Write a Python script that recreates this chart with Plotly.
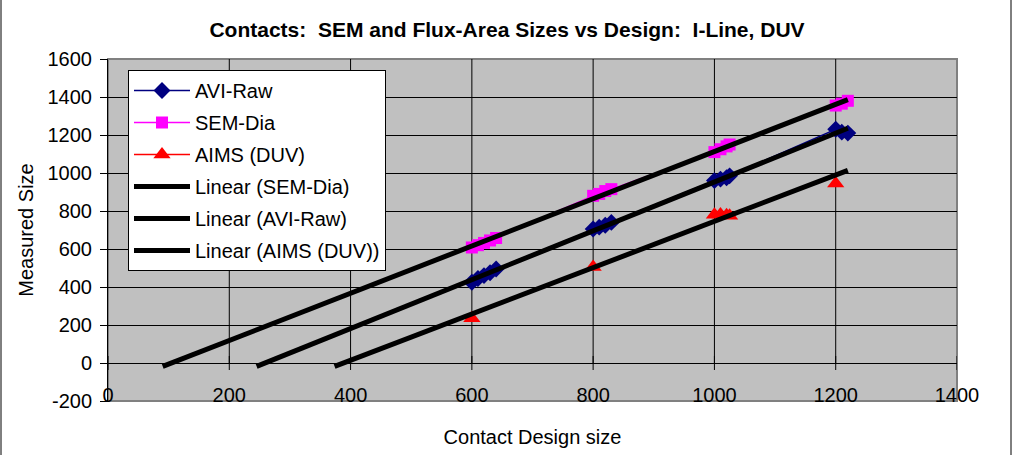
import numpy as np
import plotly.graph_objects as go

# ---- data -------------------------------------------------------------
avi_x = [600, 610, 620, 630, 640, 800, 810, 820, 830, 1000, 1010, 1020, 1025, 1200, 1210, 1220]
avi_y = [425, 445, 460, 475, 495, 705, 715, 725, 740, 960, 968, 975, 985, 1230, 1215, 1210]

sem_x = [600, 610, 620, 630, 640, 800, 810, 820, 830, 1000, 1010, 1020, 1025, 1200, 1210, 1220]
sem_y = [608, 620, 632, 645, 658, 880, 890, 905, 915, 1110, 1125, 1140, 1150, 1355, 1365, 1380]

# AIMS measurements; None marks the blank rows between design groups
aims_x = [600, None, 800, None, 1000, 1010, 1020, 1025, None, 1200]
aims_y = [235, None, 505, None, 780, 782, 778, 775, None, 945]

x_ticks = [0, 200, 400, 600, 800, 1000, 1200, 1400]
y_ticks = [-200, 0, 200, 400, 600, 800, 1000, 1200, 1400, 1600]
y_tick_text = ["-200", "0", "200", "400", "600", "800", "1000", "1200", "1400", "1600"]

# ---- geometry / style ---------------------------------------------------
W, H = 1014, 455
ML, MR, MT, MB = 108, 57, 59, 54
PW, PH = W - ML - MR, H - MT - MB
FONT = "Arial, Liberation Sans, sans-serif"
TREND_FLOOR = -18  # trendlines are projected back until they reach this level
TREND_END = max(v for v in avi_x + sem_x + aims_x if v is not None)


def trend(xs, ys):
    pts = [(a, b) for a, b in zip(xs, ys) if a is not None and b is not None]
    px = np.array([p[0] for p in pts], dtype=float)
    py = np.array([p[1] for p in pts], dtype=float)
    m, b = np.polyfit(px, py, 1)
    xx = np.array([(TREND_FLOOR - b) / m, TREND_END])
    return xx, m * xx + b


fig = go.Figure()

fig.add_trace(go.Scatter(
    x=avi_x, y=avi_y, mode="lines+markers", name="AVI-Raw",
    line=dict(color="#000080", width=1.5),
    marker=dict(symbol="diamond", size=13, color="#000080"),
    legendgroup="a"))
fig.add_trace(go.Scatter(
    x=sem_x, y=sem_y, mode="lines+markers", name="SEM-Dia",
    line=dict(color="#FF00FF", width=1.5),
    marker=dict(symbol="square", size=12, color="#FF00FF"),
    legendgroup="b"))
fig.add_trace(go.Scatter(
    x=aims_x, y=aims_y, mode="lines+markers", name="AIMS (DUV)",
    line=dict(color="#FF0000", width=1.5), connectgaps=False,
    marker=dict(symbol="triangle-up", size=15, color="#FF0000"),
    legendgroup="c"))

for name, xs, ys, grp in [("Linear (SEM-Dia)", sem_x, sem_y, "d"),
                          ("Linear (AVI-Raw)", avi_x, avi_y, "e"),
                          ("Linear (AIMS (DUV))", aims_x, aims_y, "f")]:
    tx, ty = trend(xs, ys)
    fig.add_trace(go.Scatter(
        x=tx, y=ty, mode="lines", name=name,
        line=dict(color="#000000", width=5), legendgroup=grp))

shapes = []
# vertical gridlines (down to the zero line) and crossing ticks on the zero line
for xv in x_ticks:
    if 0 < xv < 1400:
        shapes.append(dict(type="line", xref="x", yref="y", x0=xv, x1=xv, y0=0, y1=1600,
                           line=dict(color="#000000", width=1), layer="below"))
    shapes.append(dict(type="line", xref="x", yref="y", x0=xv, x1=xv,
                       ysizemode="pixel", yanchor=0, y0=-7, y1=7,
                       line=dict(color="#000000", width=1), layer="below"))
# plot-area frame
shapes.append(dict(type="rect", xref="paper", yref="paper", x0=0, x1=1, y0=0, y1=1,
                   line=dict(color="#808080", width=2), layer="below"))
# outer chart frame
shapes.append(dict(type="rect", xref="paper", yref="paper",
                   x0=(1 - ML) / PW, x1=(1011 - ML) / PW,
                   y0=-(MB + 5) / PH, y1=1 + (MT + 5) / PH,
                   line=dict(color="#000000", width=1), layer="below"))

fig.update_layout(
    width=W, height=H,
    margin=dict(l=ML, r=MR, t=MT, b=MB, autoexpand=False),
    paper_bgcolor="#FFFFFF", plot_bgcolor="#C0C0C0",
    font=dict(family=FONT, size=20, color="#000000"),
    title=dict(text="<b>Contacts:  SEM and Flux-Area Sizes vs Design:  I-Line, DUV</b>",
               x=0.5, xanchor="center", xref="container",
               y=1 - 30 / H, yanchor="middle", yref="container",
               font=dict(size=21, family=FONT, color="#000000")),
    xaxis=dict(range=[0, 1400], tickvals=x_ticks, showgrid=False, zeroline=False,
               showline=False, ticks="", ticklabelposition="inside",
               ticklabeloverflow="allow", ticklabelstandoff=-8, automargin=False,
               tickfont=dict(size=20, color="#000000"),
               title=dict(text="Contact Design size", standoff=24,
                          font=dict(size=20, color="#000000"))),
    yaxis=dict(range=[-200, 1600], tickvals=y_ticks, ticktext=y_tick_text,
               showgrid=True, gridcolor="#000000", automargin=False,
               gridwidth=1, zeroline=True, zerolinecolor="#000000", zerolinewidth=1,
               showline=True, linecolor="#000000", linewidth=1, ticks="outside",
               ticklen=7, tickcolor="#000000", tickfont=dict(size=20, color="#000000"),
               ticklabelstandoff=4,
               title=dict(text="Measured Size", standoff=8,
                          font=dict(size=20, color="#000000"))),
    legend=dict(x=(128 - ML) / PW, y=1 - (70 - MT) / PH, xanchor="left", yanchor="top",
                bgcolor="#FFFFFF", bordercolor="#000000", borderwidth=1,
                font=dict(size=20, family=FONT, color="#000000"), itemwidth=56,
                traceorder="grouped", tracegroupgap=3),
    shapes=shapes,
    showlegend=True,
)

fig.write_html("out.html")
